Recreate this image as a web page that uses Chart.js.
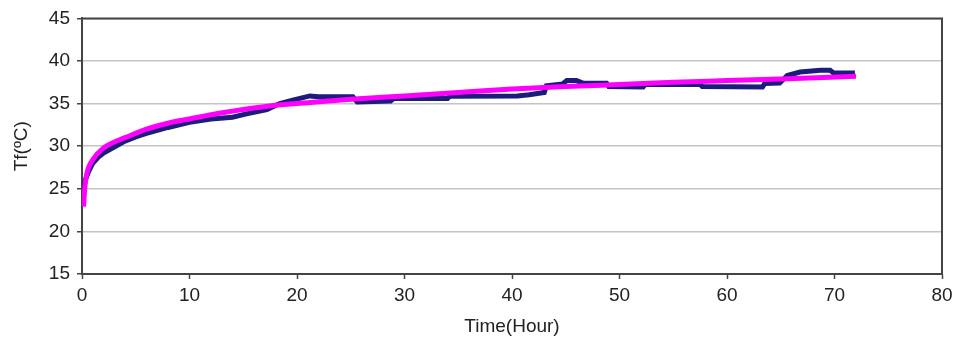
<!DOCTYPE html>
<html>
<head>
<meta charset="utf-8">
<script src="https://cdn.jsdelivr.net/npm/chart.js@4"></script>
<style>
  body { margin: 0; background: #fff; }
  canvas { display: block; }
</style>
</head>
<body>
<canvas id="grafico" width="954" height="339"></canvas>
<script>
// measured Tf (navy, stepped)
const tempoMedido = [0.1, 0.3, 0.6, 1, 1.5, 2, 3, 4, 5, 6, 8, 10, 12, 14, 15.3, 17.2, 18.4, 19.6, 21.2, 22, 25.2, 25.6, 28.7, 29, 34, 34.2, 40.5, 41.6, 43, 43.2, 44.7, 45.1, 46, 46.6, 48.8, 49, 52.2, 52.4, 57.5, 57.7, 63.3, 63.5, 64.9, 65.6, 66.8, 68.7, 69.6, 69.9, 71.9];
const tfMedido    = [24.8, 26.0, 27.0, 28.0, 28.7, 29.2, 29.9, 30.6, 31.1, 31.5, 32.2, 32.8, 33.2, 33.4, 33.8, 34.3, 35.0, 35.4, 35.9, 35.8, 35.8, 35.2, 35.3, 35.6, 35.6, 35.85, 35.9, 36.05, 36.3, 37.1, 37.3, 37.7, 37.7, 37.4, 37.4, 37.0, 36.95, 37.25, 37.25, 37.0, 36.95, 37.35, 37.4, 38.3, 38.7, 38.9, 38.9, 38.6, 38.6];

// fitted curve (magenta)
const tempoAjuste = [0.15, 0.25, 0.45, 1, 2, 3, 4, 6, 8, 10, 12, 15, 18, 21, 25, 30, 35, 40, 45, 50, 55, 60, 65, 72];
const tfAjuste    = [22.9, 25.0, 26.8, 28.4, 29.8, 30.5, 31.0, 32.0, 32.7, 33.2, 33.7, 34.3, 34.8, 35.1, 35.5, 35.9, 36.3, 36.7, 37.0, 37.25, 37.5, 37.7, 37.9, 38.2];

const ticksX = { min: 0, max: 80, passo: 10 };
const ticksY = { min: 15, max: 45, passo: 5 };

const fonte = { family: "'Liberation Sans', Arial, sans-serif", size: 19 };

// moldura superior e direita da área do gráfico
const moldura = {
    id: 'moldura',
    afterDraw(chart) {
        const { ctx, chartArea: a } = chart;
        ctx.save();
        ctx.strokeStyle = '#444';
        ctx.lineWidth = 2;
        ctx.beginPath();
        ctx.moveTo(a.left, a.top);
        ctx.lineTo(a.right, a.top);
        ctx.lineTo(a.right, a.bottom);
        ctx.stroke();
        ctx.restore();
    }
};

new Chart(document.getElementById('grafico'), {
    type: 'line',
    data: {
        datasets: [
            {
                label: 'Ajuste',
                data: tempoAjuste.map((t, i) => ({ x: t, y: tfAjuste[i] })),
                borderColor: '#ff00ff',
                borderWidth: 5,
                pointRadius: 0,
                cubicInterpolationMode: 'monotone',
                order: 0
            },
            {
                label: 'Medido',
                data: tempoMedido.map((t, i) => ({ x: t, y: tfMedido[i] })),
                borderColor: '#1c1c7c',
                borderWidth: 5,
                pointRadius: 0,
                tension: 0,
                order: 1
            }
        ]
    },
    options: {
        responsive: false,
        animation: false,
        layout: { padding: { top: 18, right: 12, left: 0, bottom: 0 } },
        plugins: {
            legend: { display: false },
            tooltip: { enabled: false }
        },
        scales: {
            x: {
                type: 'linear',
                min: ticksX.min,
                max: ticksX.max,
                afterFit: s => { s.height = 65; s.paddingRight = 0; s.paddingLeft = 0; },
                ticks: { stepSize: ticksX.passo, font: fonte, color: '#222', padding: 5, maxRotation: 0 },
                grid: { drawOnChartArea: false, tickLength: 5, tickColor: '#444', tickWidth: 1.5 },
                border: { color: '#444', width: 2 },
                title: { display: true, text: 'Time(Hour)', font: fonte, color: '#222', padding: { top: 0, bottom: 1 } }
            },
            y: {
                min: ticksY.min,
                max: ticksY.max,
                afterFit: s => { s.width = 82; },
                ticks: { stepSize: ticksY.passo, font: fonte, color: '#222', padding: 7 },
                grid: { color: '#c4c4c4', lineWidth: 1.5, tickLength: 5, tickColor: '#444', tickWidth: 1.5 },
                border: { color: '#444', width: 2 },
                title: { display: true, text: 'Tf(ºC)', font: fonte, color: '#222', padding: { top: 10, bottom: 0 } }
            }
        }
    },
    plugins: [moldura]
});
</script>
</body>
</html>
